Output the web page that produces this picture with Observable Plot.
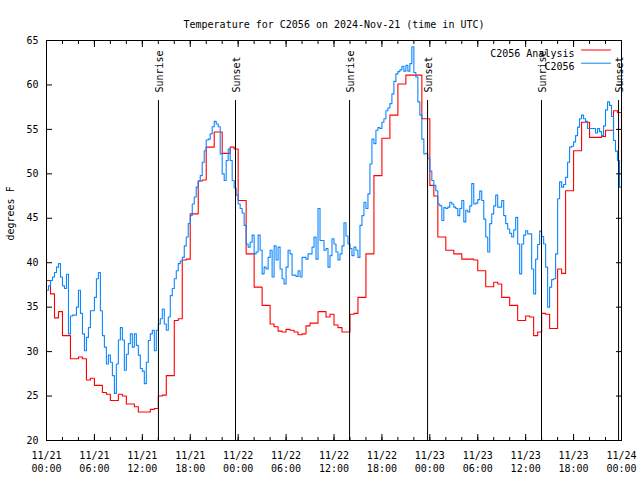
<!DOCTYPE html>
<html><head><meta charset="utf-8">
<script src="https://cdn.jsdelivr.net/npm/d3@7"></script>
<script src="https://cdn.jsdelivr.net/npm/@observablehq/plot@0.6"></script>
<style>body{margin:0;background:#fff}</style>
</head><body><div id="chart"></div>
<script>
const titleText = "Temperature for C2056 on 2024-Nov-21 (time in UTC)";
const yLabel = "degrees F";
const seriesNames = ["C2056 Analysis", "C2056"];
const seriesColors = ["#ff0000", "#0c86ff"];
const startISO = "2024-11-21T00:00:00Z";
const analysisStepMinutes = 30;
const sensorStepMinutes = 15;

// red: analysis, every 30 min from 11/21 00:00
const analysisF = [
  38, 36.5, 33.8, 34.5, 31.8, 31.8, 29.2, 29.2, 29.4, 29.2, 26.8, 27, 26.2, 26.2, 25.4, 25.2, 24.5, 24.5, 25.2, 25, 24.1, 24.1, 23.8, 23.2, 23.2,
  23.2, 23.5, 23.6, 25, 25.1, 27.3, 27.3, 33.5, 33.7, 40.3, 40.4, 45.5, 45.5, 49.2, 49.3, 53, 53, 54.7, 54.7, 52.3, 52.3, 53, 52.8,
  47, 47, 41, 41, 37.25, 37.25, 35.2, 35.2, 33.1, 32.8, 32.3, 32.2, 32.5, 32.4, 32.2, 31.9, 32, 32.9, 33.2, 33.2, 34.5, 34.5, 33.9, 34.2, 33,
  32.7, 32.2, 32.2, 34.2, 34.3, 36.1, 36.1, 41, 41, 49.8, 49.8, 54, 54, 56.6, 56.6, 60.1, 60.1, 61.1, 61.1, 61.1, 61.1, 56.2, 56.2,
  48.7, 47.5, 42.9, 42.9, 41.4, 41.4, 41, 41, 40.4, 40.4, 40.4, 40.3, 39.1, 39.1, 37.3, 37.3, 37.8, 37.6, 36.1, 36.1, 35.2, 35.2, 33.5, 33.5, 34,
  33.9, 31.8, 32.2, 34.3, 34.2, 32.6, 32.6, 39.3, 38.8, 48.1, 48.1, 52.6, 52.6, 55.8, 55.8, 54.1, 54.1, 54.1, 54.2, 54.9, 54.9, 57.1, 56.9, 50.5
];

// blue: station, every 15 min from 11/21 00:00
const sensorF = [
  36.9, 37.4, 38.0, 38.4, 38.9, 39.5, 39.9, 38.4, 37.4, 37.1, 38.7, 32, 34, 34.1, 34.1, 35, 36.9, 34.3, 32, 30.1, 31.6, 32.7, 34.6, 34.6,
  36.1, 38.2, 38.9, 34.6, 31.8, 30.5, 28.6, 29.6, 28.8, 27.3, 25.3, 28.6, 31.3, 32.7, 31.3, 27.9, 29.7, 30.9, 32, 30.5, 32, 30.7, 29.6, 28.1,
  27.8, 26.4, 28.8, 31.25, 32, 32.4, 30.1, 32.4, 33.1, 33.7, 34.8, 33.1, 32.4, 33.9, 36.3, 37.1, 38.2, 39.1, 39.9, 40.2, 40.6, 41.9, 42.9, 44.4,
  45.3, 46.6, 47.4, 48.5, 49.2, 49.8, 51.3, 52.6, 53.8, 53.9, 54.5, 55.3, 55.9, 55.6, 55.3, 52.25, 50, 49.25, 51.5, 52.8, 51.5, 49.25, 48.4, 47.6,
  46.6, 46.1, 45.6, 44.2, 42.1, 41.75, 42.3, 43.1, 41, 41.2, 43.1, 41.4, 38.75, 39.5, 39.3, 40.6, 41.4, 38.4, 41.9, 40.3, 41.75, 39.3, 38.2, 37.6,
  39.5, 41.4, 41, 38.6, 38.6, 38.45, 39.1, 38.4, 40.6, 40.6, 40.4, 41, 41, 41.75, 42.9, 40.4, 46.1, 42.5, 42.5, 41.4, 41.6, 39.5, 40.8, 42.7,
  42.1, 41.2, 40.3, 41, 41.9, 44.5, 43, 42.1, 41.6, 40.8, 41.75, 41.4, 40.6, 44.2, 45.3, 46.8, 46.1, 47.75, 51.1, 53.9, 53.4, 54.9, 55.2, 55.1,
  55.8, 56.2, 57.1, 57.4, 57.9, 59, 60.4, 61.25, 61.5, 61.7, 62.1, 61.55, 62.2, 61.55, 62.4, 64.3, 61.4, 60.9, 58.1, 56.6, 53.9, 52.25, 52.3, 51.7,
  50.3, 49.25, 48.7, 48.1, 46.6, 46.4, 44.75, 46.2, 46.1, 46.25, 46.8, 46.6, 46.25, 46.1, 45.3, 46.1, 47, 44.6, 45.9, 45.7, 46.4, 48.9, 46.6, 46.7,
  47.1, 48.05, 47, 44.9, 42.9, 41.2, 44.4, 45.5, 46.4, 47.6, 46.25, 46.25, 47, 45.3, 44.4, 43.8, 43.3, 42.9, 43.7, 45.1, 42.1, 38.75, 42.1, 43.1,
  43.6, 43.25, 43.25, 39.3, 36.5, 40.4, 42.05, 43.55, 42.95, 42.1, 39.5, 35, 37.25, 38.1, 38.2, 41, 47.2, 49.1, 48.5, 48.8, 49.6, 51.3, 53, 53.1,
  53.6, 54.3, 55.25, 56.2, 56.6, 56.2, 55.9, 55.1, 55.1, 55.1, 55.1, 54.6, 55.1, 54.75, 54.3, 55.4, 57.2, 58.1, 57.7, 56.45, 53.75, 52.55, 51.5, 48.5,
  49.6
];

const sunTimes = ["2024-11-21T14:01Z", "2024-11-21T23:40Z", "2024-11-22T13:57Z", "2024-11-22T23:43Z", "2024-11-23T13:59Z", "2024-11-23T23:38Z"];
const sunLabels = ["Sunrise", "Sunset", "Sunrise", "Sunset", "Sunrise", "Sunset"];

const xTickTimes = ["2024-11-21T00:00Z","2024-11-21T06:00Z","2024-11-21T12:00Z","2024-11-21T18:00Z",
  "2024-11-22T00:00Z","2024-11-22T06:00Z","2024-11-22T12:00Z","2024-11-22T18:00Z",
  "2024-11-23T00:00Z","2024-11-23T06:00Z","2024-11-23T12:00Z","2024-11-23T18:00Z","2024-11-24T00:00Z"];
const xTickLabels = ["11/21\n00:00","11/21\n06:00","11/21\n12:00","11/21\n18:00",
  "11/22\n00:00","11/22\n06:00","11/22\n12:00","11/22\n18:00",
  "11/23\n00:00","11/23\n06:00","11/23\n12:00","11/23\n18:00","11/24\n00:00"];
const yTicks = [20, 25, 30, 35, 40, 45, 50, 55, 60, 65];

const t0 = new Date(startISO);
const toRows = (arr, step) => arr.map((v, i) => ({time: new Date(+t0 + i * step * 60000), value: v}));
const analysisRows = toRows(analysisF, analysisStepMinutes);
const sensorRows = toRows(sensorF, sensorStepMinutes);
const sunRows = sunTimes.map((t, i) => ({time: new Date(t), label: sunLabels[i]}));
const majorTicks = xTickTimes.map(t => new Date(t));
const minorTicks = d3.utcHour.every(2).range(majorTicks[0], new Date(+majorTicks[majorTicks.length - 1] + 1));
const tickRows = majorTicks.map((t, i) => ({time: t, label: xTickLabels[i]}));

const font = "DejaVu Sans Mono";
const fs = 10;
const lineShape = {draw(context, l) { context.moveTo(0, 0); context.lineTo(0, -l); }};

const chart = Plot.plot({
  width: 640, height: 480,
  marginLeft: 46, marginRight: 19, marginTop: 40, marginBottom: 40,
  style: {fontFamily: font, fontSize: fs + "px", background: "#fff", color: "#000"},
  x: {type: "utc", domain: [majorTicks[0], majorTicks[majorTicks.length - 1]]},
  y: {domain: [20, 65]},
  marks: [
    Plot.line(analysisRows, {x: "time", y: "value", stroke: seriesColors[0], strokeWidth: 1.1, curve: "step-after"}),
    Plot.line(sensorRows, {x: "time", y: "value", stroke: seriesColors[1], strokeWidth: 1.1, curve: "step-after"}),
    Plot.ruleX(sunRows, {x: "time", insetTop: 60, stroke: "#000", strokeWidth: 1}),
    Plot.text(sunRows, {x: "time", text: "label", frameAnchor: "top", dy: 52, dx: 1, rotate: -90, textAnchor: "start", lineAnchor: "middle", fontFamily: font, fontSize: fs, fill: "#000"}),
    Plot.frame({stroke: "#000", strokeWidth: 1}),
    Plot.axisX({anchor: "bottom", ticks: majorTicks, tickSize: 6, dy: -6, tickFormat: () => "", label: null}),
    Plot.axisX({anchor: "bottom", ticks: minorTicks, tickSize: 3, dy: -3, tickFormat: () => "", label: null}),
    Plot.axisX({anchor: "top", ticks: majorTicks, tickSize: 6, dy: 6, tickFormat: () => "", label: null}),
    Plot.axisX({anchor: "top", ticks: minorTicks, tickSize: 3, dy: 3, tickFormat: () => "", label: null}),
    Plot.axisY({anchor: "left", ticks: yTicks, tickSize: 6, dx: 6, tickFormat: () => "", label: null}),
    Plot.axisY({anchor: "right", ticks: yTicks, tickSize: 6, dx: -6, tickFormat: () => "", label: null}),
    Plot.text(tickRows, {x: "time", text: "label", frameAnchor: "bottom", dy: 9, lineAnchor: "top", lineHeight: 1.3, fontFamily: font, fontSize: fs, fill: "#000"}),
    Plot.text(yTicks, {y: d => d, text: d => String(d), frameAnchor: "left", dx: -8, textAnchor: "end", fontFamily: font, fontSize: fs, fill: "#000"}),
    Plot.text([yLabel], {frameAnchor: "left", dx: -36, rotate: -90, fontFamily: font, fontSize: fs, fill: "#000"}),
    Plot.text([titleText], {frameAnchor: "top", dy: -20, fontFamily: font, fontSize: fs, fill: "#000"}),
    Plot.text([seriesNames[0]], {frameAnchor: "top-right", dx: -47, dy: 9.5, textAnchor: "end", fontFamily: font, fontSize: fs, fill: "#000"}),
    Plot.text([seriesNames[1]], {frameAnchor: "top-right", dx: -47, dy: 22.7, textAnchor: "end", fontFamily: font, fontSize: fs, fill: "#000"}),
    Plot.vector([seriesNames[0]], {frameAnchor: "top-right", dx: -40, dy: 9.5, rotate: 90, length: 29, anchor: "start", shape: lineShape, stroke: seriesColors[0], strokeWidth: 1}),
    Plot.vector([seriesNames[1]], {frameAnchor: "top-right", dx: -40, dy: 22.7, rotate: 90, length: 29, anchor: "start", shape: lineShape, stroke: seriesColors[1], strokeWidth: 1})
  ]
});
document.getElementById("chart").appendChild(chart);
</script>
</body></html>
